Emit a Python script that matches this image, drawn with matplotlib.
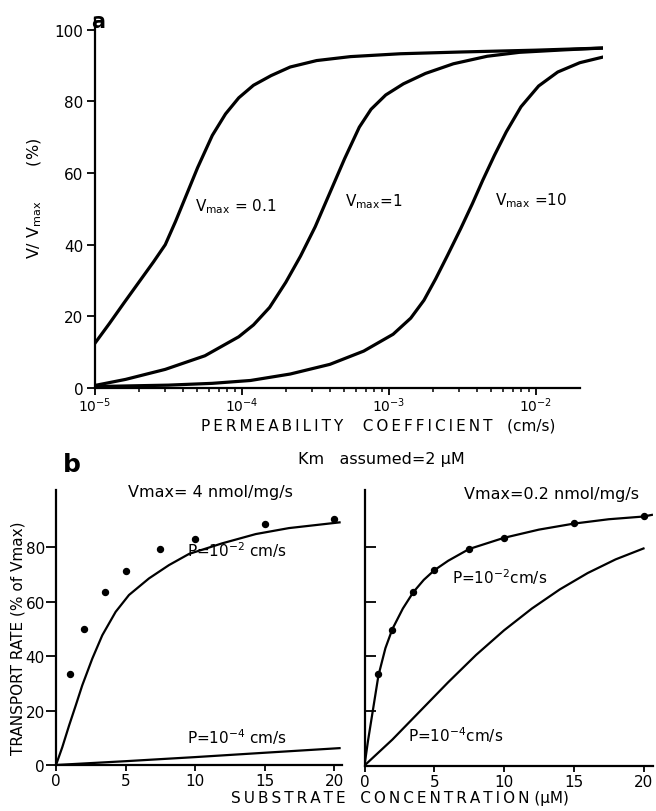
import numpy as np
import matplotlib
matplotlib.use("Agg")
import matplotlib.pyplot as plt
from matplotlib.ticker import FixedLocator, NullFormatter

plt.rcParams['font.family'] = ['DejaVu Sans']
plt.rcParams['mathtext.default'] = 'regular'

# ---- panel a : V/Vmax (%) vs permeability coefficient (log10 cm/s)
logp_01 = [-5.0, -4.9, -4.8, -4.7, -4.6, -4.52, -4.45, -4.38, -4.30, -4.20,
           -4.11, -4.02, -3.92, -3.80, -3.67, -3.49, -3.26, -2.92, -2.5, -2.0,
           -1.54]
pct_01 = [12.4, 18.0, 23.8, 29.5, 35.2, 40.0, 46.5, 53.5, 61.5, 70.5,
          76.5, 81.0, 84.5, 87.2, 89.6, 91.4, 92.5, 93.3, 93.8, 94.3,
          94.9]

logp_1 = [-5.0, -4.79, -4.52, -4.25, -4.02, -3.92, -3.81, -3.70, -3.60, -3.50,
          -3.40, -3.30, -3.20, -3.12, -3.02, -2.90, -2.75, -2.56, -2.33, -2.11,
          -1.80, -1.54]
pct_1 = [0.7, 2.4, 5.2, 9.0, 14.3, 17.6, 22.5, 29.5, 36.8, 45.0,
         54.5, 64.0, 72.8, 77.8, 81.8, 84.9, 87.8, 90.5, 92.6, 93.7,
         94.4, 94.9]

logp_10 = [-5.0, -4.5, -4.2, -3.94, -3.67, -3.40, -3.17, -2.97, -2.85, -2.76,
           -2.68, -2.60, -2.51, -2.43, -2.36, -2.28, -2.20, -2.10, -1.98, -1.85,
           -1.70, -1.54]
pct_10 = [0.4, 0.8, 1.3, 2.1, 3.9, 6.6, 10.3, 15.0, 19.5, 24.5,
          30.5, 37.0, 44.5, 51.5, 58.0, 65.0, 71.5, 78.5, 84.3, 88.2,
          90.8, 92.4]

# ---- panel b : transport rate (% of Vmax) vs substrate concentration (uM)
conc_pts = [1, 2, 3.5, 5, 7.5, 10, 15, 20]
rate_pts_left = [33.6, 49.9, 63.5, 71.5, 79.3, 83.0, 88.7, 90.4]
rate_pts_right = [33.6, 49.8, 63.4, 71.5, 79.3, 83.4, 88.9, 91.4]

# left: Vmax = 4 nmol/mg/s
conc_l_hi = [0, 0.45, 0.94, 1.42, 1.89, 2.61, 3.33, 4.29, 5.25, 6.69,
             8.13, 9.57, 11.96, 14.37, 16.76, 20.4]
rate_l_hi = [0, 6.5, 14.5, 21.9, 29.3, 39.1, 47.7, 56.3, 62.5, 68.6,
             73.5, 77.6, 81.5, 84.9, 87.1, 89.2]
conc_l_lo = [0, 5, 10, 15, 20.4]
rate_l_lo = [0, 1.4, 2.9, 4.5, 6.2]

# right: Vmax = 0.2 nmol/mg/s
conc_r_hi = [0, 0.25, 0.5, 1, 1.5, 2, 2.75, 3.5, 4.25, 5, 6, 7.5, 10,
             12.5, 15, 17.5, 20, 20.6]
rate_r_hi = [0, 9, 17, 33, 43, 50, 57.5, 63.5, 68, 71.5, 75, 79.3, 83.4,
             86.4, 88.6, 90.2, 91.2, 91.8]
conc_r_lo = [0, 2, 4, 6, 8, 10, 12, 14, 16, 18, 20]
rate_r_lo = [0, 9.5, 20, 30.5, 40.5, 49.5, 57.5, 64.5, 70.5, 75.5, 79.5]

W, H = 656, 812
fig = plt.figure(figsize=(W / 100, H / 100), dpi=100)


def fx(px):
    return px / W


def fy(py):
    return 1 - py / H


def spaced(s):
    # wide letter spacing like the typeset original
    return '\u2009'.join(s)


# ------------------------------------------------------------------ panel a
ax = fig.add_axes([fx(94.7), fy(389), (603.3 - 94.7) / W, (389 - 20) / H])
for lp, pc in [(logp_01, pct_01), (logp_1, pct_1), (logp_10, pct_10)]:
    ax.plot(10 ** np.array(lp), pc, color='black', lw=2.3, solid_capstyle='round')
ax.set_xscale('log')
ax.set_xlim(1e-5, 10 ** -1.54)
ax.set_ylim(0, 103)
for s in ['top', 'right']:
    ax.spines[s].set_visible(False)
ax.spines['bottom'].set_bounds(1e-5, 10 ** -1.7)
ax.spines['left'].set_linewidth(1.6)
ax.spines['bottom'].set_linewidth(1.6)
ax.set_yticks([0, 20, 40, 60, 80, 100])
ax.set_xticks([1e-5, 1e-4, 1e-3, 1e-2])
ax.set_xticklabels([r'$10^{-5}$', r'$10^{-4}$', r'$10^{-3}$', r'$10^{-2}$'])
minor = [m * 10.0 ** e for e in (-5, -4, -3) for m in range(2, 10)]
ax.xaxis.set_minor_locator(FixedLocator(minor))
ax.xaxis.set_minor_formatter(NullFormatter())
ax.tick_params(axis='y', which='major', direction='out', length=6, width=1.3,
               labelsize=11, pad=2)
ax.tick_params(axis='x', which='major', direction='out', length=5, width=1.3,
               labelsize=10, pad=0)
ax.tick_params(axis='x', which='minor', direction='out', length=3, width=1.1)

ax.text(10 ** -4.04, 50.8, r'V$_{max}$ = 0.1', fontsize=11, ha='center', va='center')
ax.text(10 ** -3.10, 52.2, r'V$_{max}$=1', fontsize=11, ha='center', va='center')
ax.text(10 ** -2.03, 52.7, r'V$_{max}$ =10', fontsize=11, ha='center', va='center')

fig.text(fx(98), fy(22), 'a', fontsize=15, fontweight='bold', ha='center', va='center')
fig.text(fx(35), fy(198), r'V/ V$_{max}$       (%)', fontsize=11.5, rotation=90,
         ha='center', va='center')
fig.text(fx(378), fy(426),
         spaced('PERMEABILITY') + '    ' + spaced('COEFFICIENT') + '   (cm/s)',
         fontsize=11, ha='center', va='center')

# ------------------------------------------------------------------ panel b
axl = fig.add_axes([fx(56), fy(766), 20.6 * 13.9 / W, 101 * 2.72 / H])
axr = fig.add_axes([fx(364.5), fy(766.5), 20.7 * 13.95 / W, 101 * 2.73 / H])

axl.plot(conc_l_hi, rate_l_hi, color='black', lw=1.6)
axl.plot(conc_l_lo, rate_l_lo, color='black', lw=1.6)
axl.plot(conc_pts, rate_pts_left, 'o', color='black', ms=4.3)

axr.plot(conc_r_hi, rate_r_hi, color='black', lw=1.6)
axr.plot(conc_r_lo, rate_r_lo, color='black', lw=1.6)
axr.plot(conc_pts, rate_pts_right, 'o', color='black', ms=4.3)

for a, xmax in [(axl, 20.6), (axr, 20.7)]:
    a.set_xlim(0, xmax)
    a.set_ylim(0, 101)
    for s in ['top', 'right']:
        a.spines[s].set_visible(False)
    a.spines['left'].set_linewidth(1.6)
    a.spines['bottom'].set_linewidth(1.6)
    a.set_xticks([0, 5, 10, 15, 20])
    a.tick_params(axis='x', direction='out', length=4, width=1.3, labelsize=11, pad=2)

axl.set_yticks([0, 20, 40, 60, 80])
axl.tick_params(axis='y', direction='out', length=7, width=1.3, labelsize=11, pad=1)
axr.set_yticks([20, 40, 60, 80])
axr.tick_params(axis='y', direction='in', length=8, width=1.3, labelleft=False)

axl.text(13.0, 79.5, r'P=10$^{-2}$ cm/s', fontsize=11, ha='center', va='center')
axl.text(13.0, 10.5, r'P=10$^{-4}$ cm/s', fontsize=11, ha='center', va='center')
axr.text(6.3, 69.5, r'P=10$^{-2}$cm/s', fontsize=11, ha='left', va='center')
axr.text(3.1, 11.5, r'P=10$^{-4}$cm/s', fontsize=11, ha='left', va='center')

fig.text(fx(72), fy(465), 'b', fontsize=18, fontweight='bold', ha='center', va='center')
fig.text(fx(381), fy(460), 'Km   assumed=2 μM', fontsize=11.5, ha='center', va='center')
fig.text(fx(210), fy(493), 'Vmax= 4 nmol/mg/s', fontsize=11.5, ha='center', va='center')
fig.text(fx(551), fy(495), 'Vmax=0.2 nmol/mg/s', fontsize=11.5, ha='center', va='center')
fig.text(fx(18), fy(638), 'TRANSPORT RATE (% of Vmax)', fontsize=11, rotation=90,
         ha='center', va='center')
fig.text(fx(400), fy(799),
         spaced('SUBSTRATE') + '   ' + spaced('CONCENTRATION') + ' (μM)',
         fontsize=11, ha='center', va='center')

fig.savefig('out.png', dpi=100)
